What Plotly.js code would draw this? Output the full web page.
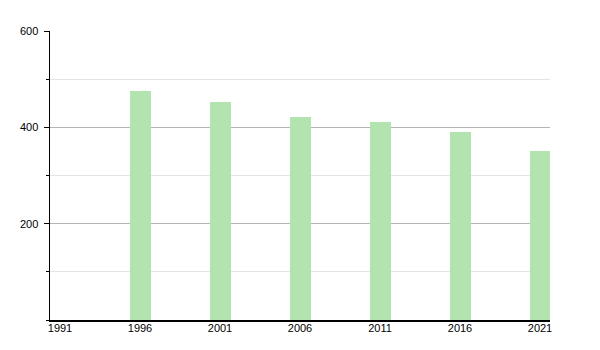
<!DOCTYPE html>
<html>
<head>
<meta charset="utf-8">
<script src="https://cdn.plot.ly/plotly-3.0.1.min.js"></script>
<style>html,body{margin:0;padding:0;background:#fff;}#chart{width:600px;height:350px;}</style>
</head>
<body>
<div id="chart"></div>
<script>
const years = ['1991', '1996', '2001', '2006', '2011', '2016', '2021'];
const values = [null, 475, 452, 421, 412, 390, 351];
const yTickVals = [200, 400, 600];
const yTickText = ['200', '400', '600'];

Plotly.newPlot('chart', [{
  type: 'bar',
  x: years,
  y: values,
  width: 0.2625,
  marker: {color: 'rgb(179,228,176)', line: {width: 0}},
  hoverinfo: 'x+y'
}], {
  width: 600, height: 350,
  margin: {l: 50, r: 50, t: 31, b: 30},
  paper_bgcolor: '#fff', plot_bgcolor: '#fff',
  font: {family: 'Liberation Sans, Arial, sans-serif', size: 11, color: '#000'},
  showlegend: false,
  bargap: 0,
  xaxis: {
    type: 'category',
    range: [-0.125, 6.125],
    showline: true, linecolor: '#000', linewidth: 1.5,
    showgrid: false, ticks: '', zeroline: false,
    ticklabelstandoff: -3
  },
  yaxis: {
    range: [0, 600],
    tickvals: yTickVals, ticktext: yTickText,
    showline: true, linecolor: '#000', linewidth: 1.5,
    ticks: 'outside', ticklen: 5, tickcolor: '#000', tickwidth: 1,
    showgrid: true, gridcolor: '#b4b4b4', gridwidth: 1,
    zeroline: false,
    ticklabelstandoff: 3,
    minor: {dtick: 100, tick0: 0, ticks: 'outside', ticklen: 3, tickcolor: '#000', showgrid: true, gridcolor: '#e4e4e4', gridwidth: 1}
  }
}, {staticPlot: true});
</script>
</body>
</html>
